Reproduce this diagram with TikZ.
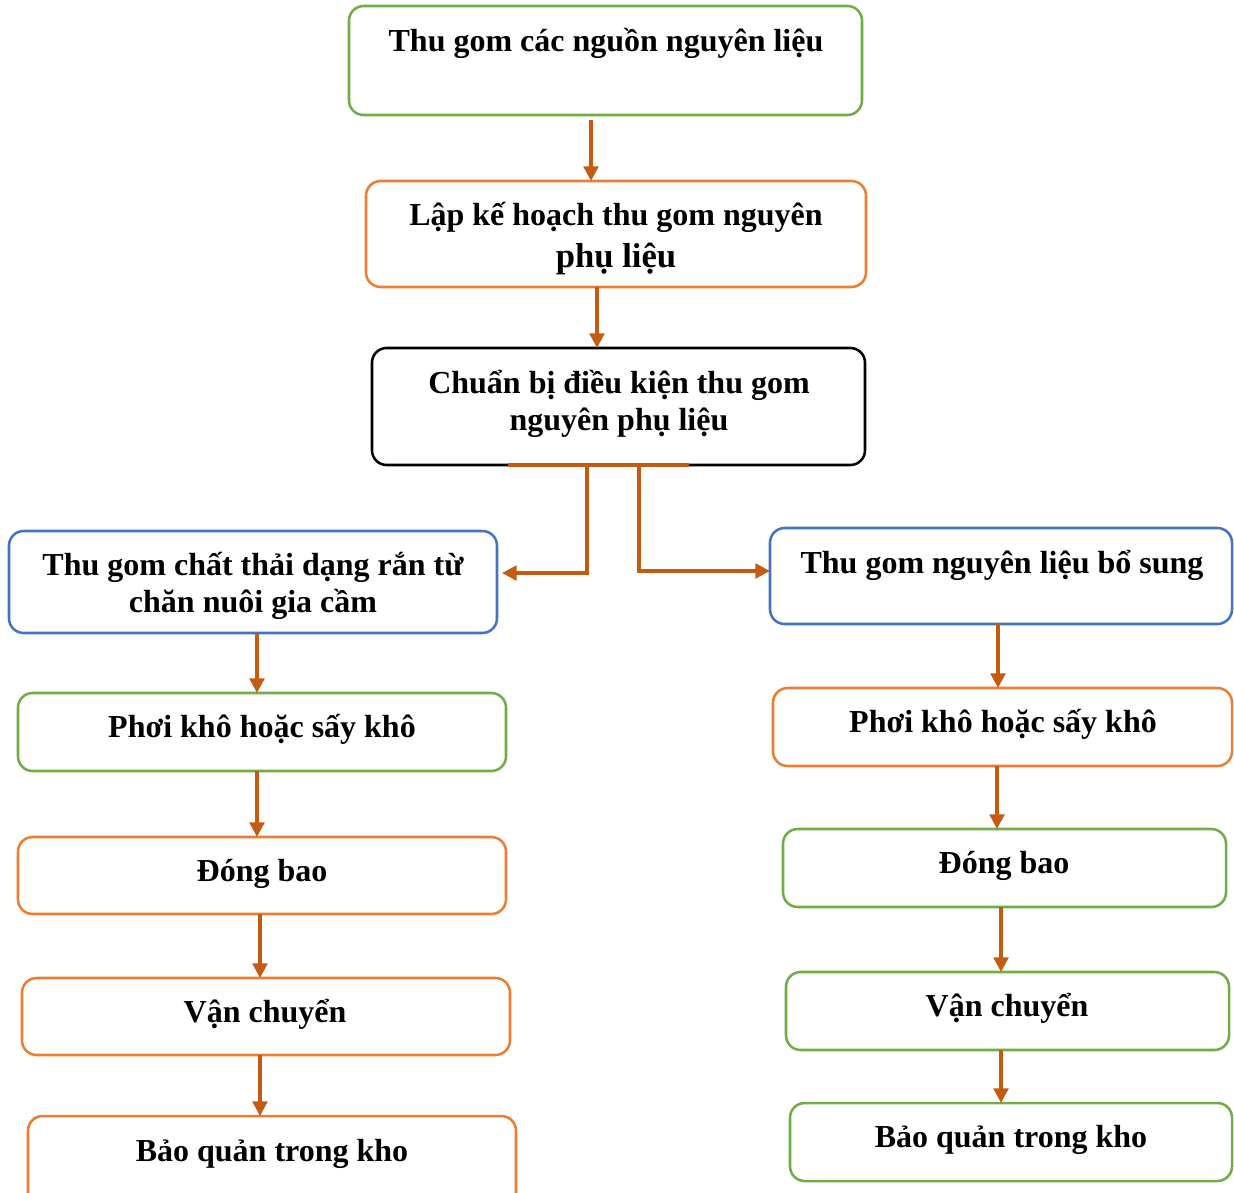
\documentclass[tikz,border=0pt]{standalone}
\usepackage{fontspec}
\setmainfont{Liberation Serif}
\usetikzlibrary{arrows.meta,calc}
\definecolor{cgreen}{HTML}{70AD47}
\definecolor{corange}{HTML}{ED7D31}
\definecolor{cblue}{HTML}{4472C4}
\definecolor{carrow}{HTML}{C55A11}
\begin{document}
\begin{tikzpicture}[x=0.75pt,y=-0.75pt,
  box/.style={draw,line width=1.9pt,rounded corners=11pt,fill=white},
  gbox/.style={box,draw=cgreen},
  obox/.style={box,draw=corange},
  bbox/.style={box,draw=cblue},
  kbox/.style={box,draw=black},
  txt/.style={anchor=base,inner sep=0pt,font=\bfseries\fontsize{24}{28}\selectfont},
  arr/.style={draw=carrow,line width=2.5pt,-{Triangle[length=11pt,width=11pt]}},
  seg/.style={draw=carrow,line width=2.5pt}]
\useasboundingbox (0,0) rectangle (1234,1192);
% boxes
\draw[gbox] (349,6) rectangle (862,115);
\draw[obox] (366,181) rectangle (866,287);
\draw[kbox] (372,348) rectangle (865,465);
\draw[bbox] (9,531) rectangle (497,633);
\draw[bbox] (770,528) rectangle (1232,624);
\draw[gbox] (18,693) rectangle (506,771);
\draw[obox] (18,837) rectangle (506,914);
\draw[obox] (22,978) rectangle (510,1055);
\draw[obox] (28,1116) rectangle (516,1215);
\draw[obox] (773,688) rectangle (1232,766);
\draw[gbox] (783,829) rectangle (1226,907);
\draw[gbox] (786,972) rectangle (1229,1050);
\draw[gbox] (790,1103) rectangle (1232,1181);
% texts
\node[txt] (t1) at (606,51) {Thu gom các nguồn nguyên liệu};
\node[txt] (t2a) at (616,225) {Lập kế hoạch thu gom nguyên};
\node[txt,font=\bfseries\fontsize{26}{30}\selectfont] (t2b) at (616,267) {phụ liệu};
\node[txt] (t3a) at (619,393) {Chuẩn bị điều kiện thu gom};
\node[txt] (t3b) at (619,430) {nguyên phụ liệu};
\node[txt] (t4a) at (253,575) {Thu gom chất thải dạng rắn từ};
\node[txt] (t4b) at (253,612) {chăn nuôi gia cầm};
\node[txt] (t5) at (1002,573) {Thu gom nguyên liệu bổ sung};
\node[txt] (t6) at (262,737) {Phơi khô hoặc sấy khô};
\node[txt] (t7) at (262,881) {Đóng bao};
\node[txt] (t8) at (265,1022) {Vận chuyển};
\node[txt] (t9) at (272,1161) {Bảo quản trong kho};
\node[txt] (t10) at (1003,732) {Phơi khô hoặc sấy khô};
\node[txt] (t11) at (1004,873) {Đóng bao};
\node[txt] (t12) at (1007,1016) {Vận chuyển};
\node[txt] (t13) at (1011,1147) {Bảo quản trong kho};
% connectors
\coordinate (a1s) at (591,120); \coordinate (a1e) at (591,181);
\draw[arr] (a1s) -- (a1e);
\coordinate (a2s) at (597,287); \coordinate (a2e) at (597,348);
\draw[arr] (a2s) -- (a2e);
\coordinate (hl) at (508,465); \coordinate (hr) at (689,465);
\draw[seg] (hl) -- (hr);
\coordinate (ls) at (587,465); \coordinate (le) at (502,573);
\draw[arr] (ls) |- (le);
\coordinate (rs) at (639,465); \coordinate (re) at (770,571);
\draw[arr] (rs) |- (re);
\coordinate (l1s) at (257,633); \coordinate (l1e) at (257,693);
\draw[arr] (l1s) -- (l1e);
\coordinate (l2s) at (257,771); \coordinate (l2e) at (257,837);
\draw[arr] (l2s) -- (l2e);
\coordinate (l3s) at (260,914); \coordinate (l3e) at (260,978);
\draw[arr] (l3s) -- (l3e);
\coordinate (l4s) at (260,1055); \coordinate (l4e) at (260,1116);
\draw[arr] (l4s) -- (l4e);
\coordinate (r1s) at (998,624); \coordinate (r1e) at (998,688);
\draw[arr] (r1s) -- (r1e);
\coordinate (r2s) at (997,766); \coordinate (r2e) at (997,829);
\draw[arr] (r2s) -- (r2e);
\coordinate (r3s) at (1001,907); \coordinate (r3e) at (1001,972);
\draw[arr] (r3s) -- (r3e);
\coordinate (r4s) at (1001,1050); \coordinate (r4e) at (1001,1103);
\draw[arr] (r4s) -- (r4e);
\end{tikzpicture}
\end{document}
